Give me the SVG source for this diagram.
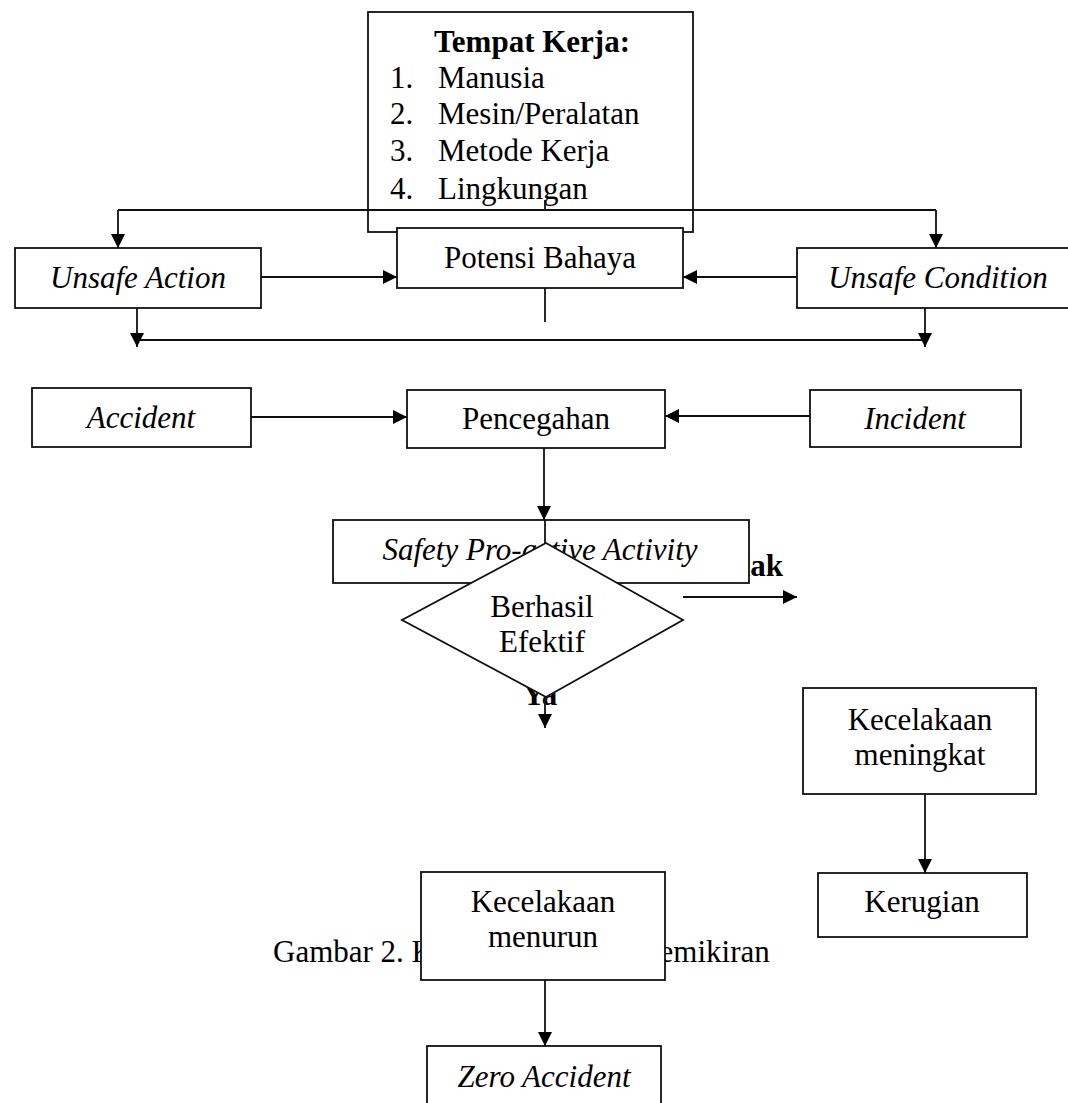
<svg xmlns="http://www.w3.org/2000/svg" width="1068" height="1103" viewBox="0 0 1068 1103">
<style>
text{font-family:"Liberation Serif","Times New Roman",serif;font-size:31px;fill:#000}
.c{text-anchor:middle}
.i{font-style:italic}
.b{font-weight:bold}
.box{fill:#fff;stroke:#111;stroke-width:1.8}
.ln{fill:none;stroke:#111;stroke-width:1.8}
.ar{marker-end:url(#ah)}
</style>
<defs>
<marker id="ah" markerUnits="userSpaceOnUse" markerWidth="15" markerHeight="14" refX="14" refY="7" orient="auto">
<path d="M0,0 L14,7 L0,14 z" fill="#000"/>
</marker>
</defs>
<rect width="1068" height="1103" fill="#fff"/>

<g id="tempat-kerja">
<rect class="box" x="368" y="12" width="325" height="220"/>
<text class="c b" x="532" y="52">Tempat Kerja:</text>
<text x="390" y="88">1.</text><text x="438" y="88">Manusia</text>
<text x="390" y="124">2.</text><text x="438" y="124">Mesin/Peralatan</text>
<text x="390" y="161">3.</text><text x="438" y="161">Metode Kerja</text>
<text x="390" y="199">4.</text><text x="438" y="199">Lingkungan</text>
</g>

<g id="labels">
<text class="b" x="783" y="576" text-anchor="end">Tidak</text>
<text class="c b" x="540" y="705">Ya</text>
<text x="273" y="962">Gambar 2. Kerangka Konsep Pemikiran</text>
</g>

<g id="unsafe-action">
<rect class="box" x="15" y="248" width="246" height="60"/>
<text class="c i" x="138" y="288">Unsafe Action</text>
</g>
<g id="potensi-bahaya">
<rect class="box" x="397" y="228" width="286" height="60"/>
<text class="c" x="540" y="268">Potensi Bahaya</text>
</g>
<g id="unsafe-condition">
<rect class="box" x="797" y="248" width="290" height="60"/>
<text class="c i" x="938" y="288">Unsafe Condition</text>
</g>
<g id="accident">
<rect class="box" x="32" y="388" width="219" height="59"/>
<text class="c i" x="141" y="428">Accident</text>
</g>
<g id="pencegahan">
<rect class="box" x="407" y="390" width="258" height="58"/>
<text class="c" x="536" y="429">Pencegahan</text>
</g>
<g id="incident">
<rect class="box" x="810" y="390" width="211" height="57"/>
<text class="c i" x="915" y="429">Incident</text>
</g>
<g id="safety-proactive">
<rect class="box" x="333" y="520" width="416" height="63"/>
<text class="c i" x="540" y="560">Safety Pro-active Activity</text>
</g>

<g id="connectors">
<path class="ln" d="M118,210 H936"/>
<path class="ln" d="M545,200 V210"/>
<path class="ln ar" d="M118,210 V248"/>
<path class="ln ar" d="M936,210 V248"/>
<path class="ln ar" d="M261,277 H397"/>
<path class="ln ar" d="M797,277 H683"/>
<path class="ln" d="M545,288 V322"/>
<path class="ln" d="M137,340 H925"/>
<path class="ln ar" d="M137,308 V347"/>
<path class="ln ar" d="M925,308 V347"/>
<path class="ln ar" d="M251,417 H407"/>
<path class="ln ar" d="M810,416 H665"/>
<path class="ln ar" d="M544,448 V520"/>
<path class="ln" d="M545,520 V543"/>
<path class="ln ar" d="M683,597 H797"/>
<path class="ln ar" d="M545,697 V728"/>
<path class="ln ar" d="M925,794 V873"/>
<path class="ln ar" d="M545,980 V1046"/>
</g>

<g id="berhasil-efektif">
<polygon class="box" points="546,543 683,620 546,697 402,620"/>
<text class="c" x="542" y="617">Berhasil</text>
<text class="c" x="542" y="652">Efektif</text>
</g>
<g id="kecelakaan-meningkat">
<rect class="box" x="803" y="688" width="233" height="106"/>
<text class="c" x="920" y="730">Kecelakaan</text>
<text class="c" x="920" y="765">meningkat</text>
</g>
<g id="kerugian">
<rect class="box" x="818" y="873" width="209" height="64"/>
<text class="c" x="922" y="912">Kerugian</text>
</g>
<g id="kecelakaan-menurun">
<rect class="box" x="421" y="872" width="244" height="108"/>
<text class="c" x="543" y="912">Kecelakaan</text>
<text class="c" x="543" y="947">menurun</text>
</g>
<g id="zero-accident">
<rect class="box" x="427" y="1046" width="234" height="70"/>
<text class="c i" x="544" y="1087">Zero Accident</text>
</g>
</svg>
